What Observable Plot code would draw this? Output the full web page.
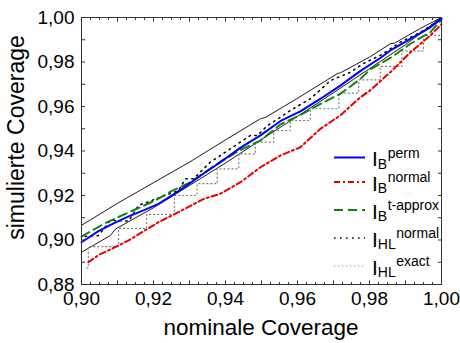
<!DOCTYPE html>
<html><head><meta charset="utf-8">
<script src="https://cdn.jsdelivr.net/npm/d3@7"></script>
<script src="https://cdn.jsdelivr.net/npm/@observablehq/plot@0.6"></script>
<style>
body{margin:0;background:#fff;}
#chart{position:relative;width:460px;height:343px;}
svg{font-family:Arial,"Liberation Sans",sans-serif;}
</style></head><body><div id="chart"></div>
<script>
// ---- data ----
const bandUpX = [0.9000,0.9100,0.9220,0.9300,0.9400,0.9497,0.9510,0.9600,0.9710,0.9720,0.9800,0.9858,0.9870,0.9940,1.0000];
const bandUpY = [0.9066,0.9165,0.9276,0.9350,0.9450,0.9545,0.9550,0.9637,0.9747,0.9752,0.9822,0.9882,0.9885,0.9950,1.0000];
const bandLoX = [0.9000,0.9080,0.9095,0.9200,0.9300,0.9400,0.9500,0.9600,0.9700,0.9800,0.9900,1.0000];
const bandLoY = [0.8945,0.9020,0.9050,0.9145,0.9245,0.9346,0.9452,0.9556,0.9662,0.9770,0.9878,1.0000];

const permX = [0.9000,0.9047,0.9089,0.9131,0.9172,0.9214,0.9256,0.9297,0.9331,0.9386,0.9442,0.9497,0.9553,0.9608,0.9664,0.9719,0.9775,0.9830,0.9858,0.9914,0.9969,1.0000];
const permY = [0.8990,0.9040,0.9075,0.9106,0.9133,0.9162,0.9205,0.9250,0.9290,0.9350,0.9415,0.9470,0.9535,0.9578,0.9635,0.9694,0.9760,0.9818,0.9852,0.9904,0.9956,0.9995];

const normalX = [0.9019,0.9050,0.9084,0.9131,0.9168,0.9214,0.9269,0.9340,0.9386,0.9442,0.9497,0.9553,0.9608,0.9664,0.9719,0.9775,0.9800,0.9858,0.9914,0.9969,1.0000];
const normalY = [0.8900,0.8935,0.8960,0.8998,0.9035,0.9080,0.9125,0.9185,0.9208,0.9260,0.9327,0.9380,0.9417,0.9500,0.9560,0.9642,0.9670,0.9754,0.9844,0.9919,0.9970];

const tApproxX = [0.9000,0.9066,0.9112,0.9160,0.9205,0.9250,0.9297,0.9330,0.9386,0.9442,0.9497,0.9553,0.9608,0.9664,0.9719,0.9775,0.9803,0.9858,0.9914,0.9969,1.0000];
const tApproxY = [0.9015,0.9076,0.9110,0.9145,0.9178,0.9220,0.9255,0.9290,0.9352,0.9405,0.9447,0.9520,0.9562,0.9612,0.9657,0.9724,0.9768,0.9818,0.9882,0.9934,0.9990];

const hlNormalX = [0.9010,0.9047,0.9080,0.9131,0.9158,0.9232,0.9269,0.9289,0.9311,0.9358,0.9414,0.9469,0.9489,0.9517,0.9553,0.9580,0.9636,0.9692,0.9747,0.9783,0.9830,0.9886,0.9942,1.0000];
const hlNormalY = [0.9016,0.9020,0.9088,0.9085,0.9155,0.9200,0.9222,0.9275,0.9275,0.9350,0.9410,0.9470,0.9470,0.9515,0.9552,0.9582,0.9635,0.9717,0.9754,0.9793,0.9830,0.9889,0.9934,0.9995];

const hlExactX = [0.9015,0.9019,0.9103,0.9181,0.9258,0.9321,0.9377,0.9437,0.9483,0.9534,0.9580,0.9636,0.9715,0.9770,0.9830,0.9890,0.9950,1.0000];
const hlExactY = [0.8875,0.8970,0.9052,0.9115,0.9200,0.9253,0.9320,0.9387,0.9440,0.9492,0.9537,0.9590,0.9660,0.9720,0.9780,0.9850,0.9920,0.9990];

const xTickValues = [0.90,0.92,0.94,0.96,0.98,1.00];
const xTickLabels = ["0,90","0,92","0,94","0,96","0,98","1,00"];
const yTickValues = [0.88,0.90,0.92,0.94,0.96,0.98,1.00];
const yTickLabels = ["0,88","0,90","0,92","0,94","0,96","0,98","1,00"];
const xTitle = "nominale Coverage";
const yTitle = "simulierte Coverage";
const legendSub = ["B","B","B","HL","HL"];
const legendSup = ["perm","normal","t-approx","normal","exact"];

// ---- styles ----
const styles = [
  {stroke:"#0000ff", strokeWidth:2, dash:null},
  {stroke:"#e80000", strokeWidth:2, dash:"6,3,2,3"},
  {stroke:"#0e860e", strokeWidth:2, dash:"9,5"},
  {stroke:"#000000", strokeWidth:1.5, dash:"1.5,4.5"},
  {stroke:"#808080", strokeWidth:1.2, dash:"1.2,2.8"}
];

const rows = (xs, ys) => xs.map((x, i) => ({x, y: ys[i]}));
const xMinor = d3.range(0.9, 1.0001, 0.0025);
const xMid = d3.range(0.9, 1.0001, 0.01);
const yMinor = d3.range(0.88, 1.0001, 0.01);
const xFmt = d => { const i = xTickValues.findIndex(v => Math.abs(v - d) < 1e-9); return i >= 0 ? xTickLabels[i] : ""; };
const yFmt = d => { const i = yTickValues.findIndex(v => Math.abs(v - d) < 1e-9); return i >= 0 ? yTickLabels[i] : ""; };
const none = () => "";

const plot = Plot.plot({
  width: 460, height: 343,
  marginLeft: 81, marginRight: 19, marginTop: 17, marginBottom: 59,
  style: {fontFamily: "Arial, 'Liberation Sans', sans-serif", background: "#fff", color: "#000"},
  x: {domain: [0.9, 1]},
  y: {domain: [0.88, 1]},
  marks: [
    Plot.line(rows(bandUpX, bandUpY), {x: "x", y: "y", stroke: "#000", strokeWidth: 0.9}),
    Plot.line(rows(bandLoX, bandLoY), {x: "x", y: "y", stroke: "#000", strokeWidth: 0.9}),
    Plot.line(rows(hlExactX, hlExactY), {x: "x", y: "y", curve: "step-after", stroke: styles[4].stroke, strokeWidth: styles[4].strokeWidth, strokeDasharray: styles[4].dash}),
    Plot.line(rows(hlNormalX, hlNormalY), {x: "x", y: "y", stroke: styles[3].stroke, strokeWidth: styles[3].strokeWidth, strokeDasharray: styles[3].dash}),
    Plot.line(rows(normalX, normalY), {x: "x", y: "y", stroke: styles[1].stroke, strokeWidth: styles[1].strokeWidth, strokeDasharray: styles[1].dash}),
    Plot.line(rows(tApproxX, tApproxY), {x: "x", y: "y", stroke: styles[2].stroke, strokeWidth: styles[2].strokeWidth, strokeDasharray: styles[2].dash}),
    Plot.line(rows(permX, permY), {x: "x", y: "y", stroke: styles[0].stroke, strokeWidth: styles[0].strokeWidth}),
    // inward ticks
    Plot.axisX({anchor: "bottom", ticks: xMinor, tickSize: -2, tickFormat: none, label: null, stroke: "#333"}),
    Plot.axisX({anchor: "bottom", ticks: xMid, tickSize: -3.5, tickFormat: none, label: null, stroke: "#333"}),
    Plot.axisX({anchor: "top", ticks: xMinor, tickSize: -2, tickFormat: none, label: null, stroke: "#333"}),
    Plot.axisX({anchor: "top", ticks: xMid, tickSize: -3.5, tickFormat: none, label: null, stroke: "#333"}),
    Plot.axisY({anchor: "left", ticks: yMinor, tickSize: -4, tickFormat: none, label: null, stroke: "#333"}),
    Plot.axisY({anchor: "right", ticks: yMinor, tickSize: -4, tickFormat: none, label: null, stroke: "#333"}),
    // tick labels
    Plot.axisX({anchor: "bottom", ticks: xTickValues, tickSize: 0, tickPadding: 6.5, tickFormat: xFmt, fontSize: 19, label: null}),
    Plot.axisY({anchor: "left", ticks: yTickValues, tickSize: 0, tickPadding: 7, tickFormat: yFmt, fontSize: 19, label: null}),
    Plot.frame({stroke: "#333", strokeWidth: 1})
  ]
});
document.getElementById("chart").appendChild(plot);

const svg = d3.select(plot);
svg.append("text").attr("x", 261).attr("y", 335).attr("text-anchor", "middle")
  .attr("font-size", 22.5).attr("fill", "#000").text(xTitle);
svg.append("text").attr("transform", "translate(24,137.5) rotate(-90)").attr("text-anchor", "middle")
  .attr("font-size", 23).attr("fill", "#000").text(yTitle);

// legend
const legendY = [157.5, 182, 210, 238, 266];
const lg = svg.append("g").attr("text-anchor", "start");
legendSup.forEach((sup, i) => {
  const L = legendY[i], s = styles[i];
  lg.append("line").attr("x1", 334).attr("x2", 365).attr("y1", L).attr("y2", L)
    .attr("stroke", s.stroke).attr("stroke-width", s.strokeWidth)
    .attr("stroke-dasharray", s.dash);
  const t = lg.append("text").attr("x", 372).attr("y", L + 8.5).attr("font-size", 21)
    .attr("fill", "#000").attr("text-anchor", "start");
  t.append("tspan").text("I");
  t.append("tspan").attr("font-size", 14).attr("dy", 2.5).text(legendSub[i]);
  const iw = t.node().getComputedTextLength();
  t.append("tspan").attr("font-size", 14).attr("x", 372 + iw + 0.5).attr("y", L).text(sup);
});
</script></body></html>
